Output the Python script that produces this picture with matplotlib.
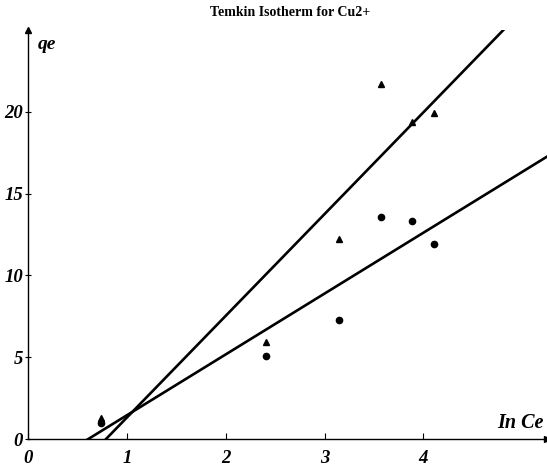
import matplotlib.pyplot as plt
import numpy as np

plt.rcParams['font.family'] = ['Liberation Serif', 'DejaVu Serif']

# ln Ce against qe, two data sets
ln_ce = [0.74, 2.41, 3.15, 3.57, 3.88, 4.11]
qe_tri = [1.3, 5.9, 12.2, 21.7, 19.4, 19.9]
qe_dot = [1.0, 5.1, 7.3, 13.6, 13.3, 11.9]

# fitted straight lines (slope, intercept)
fit_tri = (6.22, -4.91)
fit_dot = (3.72, -2.27)

x_ticks = [0, 1, 2, 3, 4]
y_ticks = [0, 5, 10, 15, 20]

fig = plt.figure(figsize=(5.47, 4.69), dpi=100)
ax = fig.add_axes([28 / 547, 30 / 469, 519 / 547, 409 / 469])
ax.set_xlim(0, 5.25)
ax.set_ylim(0, 25)

xs = np.linspace(0, 5.25, 200)
for slope, icpt in (fit_tri, fit_dot):
    ax.plot(xs, slope * xs + icpt, color='black', lw=1.9)

ax.plot(ln_ce, qe_tri, linestyle='none', marker='^', color='black', ms=5)
ax.plot(ln_ce, qe_dot, linestyle='none', marker='o', color='black', ms=4.5)

for side in ('top', 'right'):
    ax.spines[side].set_visible(False)
for side in ('left', 'bottom'):
    ax.spines[side].set_linewidth(1.0)
ax.plot(1, 0, '>k', ms=5, transform=ax.transAxes, clip_on=False)
ax.plot(0, 1, '^k', ms=5, transform=ax.transAxes, clip_on=False)

font = dict(fontsize=13.5, fontweight='bold', fontstyle='italic')
ax.set_xticks(x_ticks)
ax.set_yticks(y_ticks)
ax.set_xticklabels([str(t) for t in x_ticks], **font)
ax.set_yticklabels([str(t) for t in y_ticks], **font)
ax.tick_params(axis='x', direction='in', length=4, pad=8)
ax.tick_params(axis='y', direction='inout', length=5, pad=1)

ax.text(0.1, 24.1, 'qe', ha='left', va='center', fontsize=14,
        fontweight='bold', fontstyle='italic')
ax.text(5.22, 1.0, 'In Ce', ha='right', va='center', fontsize=14.5,
        fontweight='bold', fontstyle='italic')
fig.text(290 / 547, 1 - 12 / 469, 'Temkin Isotherm for Cu2+', ha='center',
         va='center', fontsize=10, fontweight='bold')

fig.savefig('out.png', dpi=100)
